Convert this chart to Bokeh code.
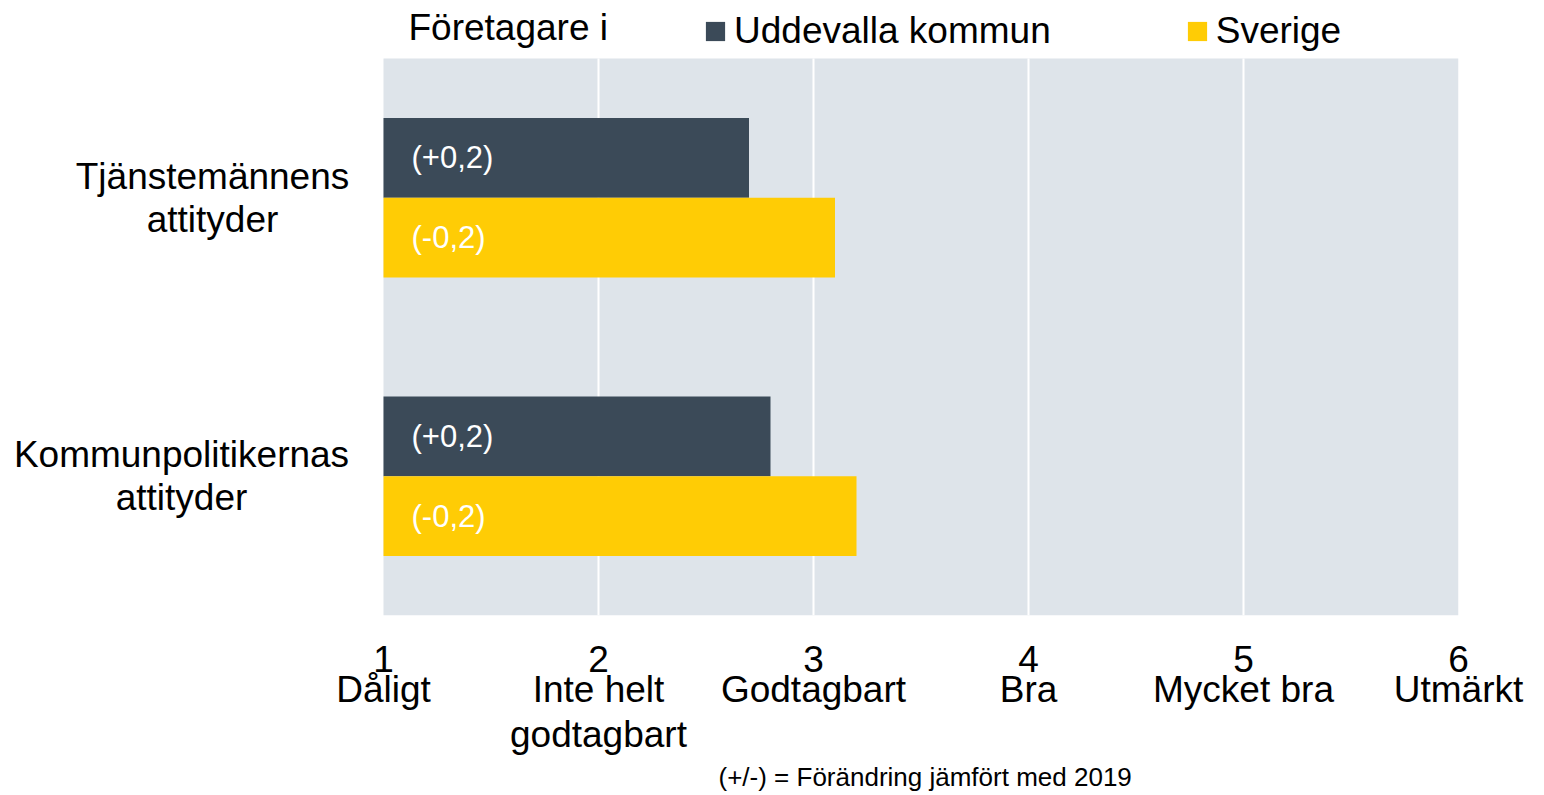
from bokeh.plotting import figure
from bokeh.models import (Range1d, FixedTicker, LinearAxis, Legend, LegendItem, Title,
                          ColumnDataSource, BoxAnnotation)
from bokeh.transform import dodge
from bokeh.core.properties import value
from bokeh.embed import file_html
from bokeh.resources import INLINE

# ---------------- data ----------------
categories = ["Kommunpolitikernas\nattityder", "Tjänstemännens\nattityder"]
series_names = ["Uddevalla kommun", "Sverige"]
uddevalla = [2.8, 2.7]
sverige = [3.2, 3.1]
uddevalla_change = ["(+0,2)", "(+0,2)"]
sverige_change = ["(-0,2)", "(-0,2)"]
scale_values = [1, 2, 3, 4, 5, 6]
scale_names = ["Dåligt", "Inte helt\ngodtagbart", "Godtagbart", "Bra", "Mycket bra", "Utmärkt"]
legend_heading = "Företagare i"
footnote = "(+/-) = Förändring jämfört med 2019"

# ---------------- style / layout ----------------
FONT = "Liberation Sans"
DARK = "#3B4A58"
YELLOW = "#FFCC05"
BG = "#DEE4EA"
BIG = "37px"
OFF = 0.143
BAR_H = 0.286
LABEL_X_PX = 28          # bar label inset from bar start (px)
W, H = 1536, 793
RIGHT = 78
BOTTOM = 178
PLOT_LEFT = 383          # px where the scale starts
PLOT_TOP = 58            # px where the category area starts
CAT_LABEL_CX = [181, 212]  # horizontal centres of the category label blocks (px)

n = len(categories)
pos = [i + 0.5 for i in range(n)]
lo, hi = scale_values[0], scale_values[-1]
frame_w = W - RIGHT
frame_h = H - BOTTOM
x_start = lo - PLOT_LEFT / (frame_w - PLOT_LEFT) * (hi - lo)
y_end = n * frame_h / (frame_h - PLOT_TOP)

src = ColumnDataSource(dict(pos=pos, cat=categories, udd=uddevalla, sve=sverige,
                            udd_txt=uddevalla_change, sve_txt=sverige_change,
                            lab_off=[c - PLOT_LEFT for c in CAT_LABEL_CX]))

p = figure(width=W, height=H, x_range=Range1d(x_start, hi), y_range=Range1d(0, y_end),
           y_axis_location=None, output_backend="svg", toolbar_location=None,
           min_border_left=0, min_border_right=RIGHT, min_border_top=0,
           min_border_bottom=BOTTOM)
p.background_fill_color = "white"
p.border_fill_color = "white"
p.outline_line_color = None
p.grid.visible = False

# plot-area background and grid lines
p.add_layout(BoxAnnotation(left=lo, right=hi, bottom=0, top=n, fill_color=BG,
                           fill_alpha=1, line_color=None, level="underlay"))
p.segment(x0=scale_values[1:-1], x1=scale_values[1:-1], y0=0, y1=n,
          line_color="white", line_width=2)

r1 = p.hbar(y=dodge("pos", OFF), left=lo, right="udd", height=BAR_H,
            fill_color=DARK, line_color=None, source=src)
r2 = p.hbar(y=dodge("pos", -OFF), left=lo, right="sve", height=BAR_H,
            fill_color=YELLOW, line_color=None, source=src)

p.text(x=lo, y=dodge("pos", OFF), x_offset=LABEL_X_PX, text="udd_txt", source=src,
       text_color="white", text_font=value(FONT), text_font_size="31px",
       text_baseline="middle", text_align="left")
p.text(x=lo, y=dodge("pos", -OFF), x_offset=LABEL_X_PX, text="sve_txt", source=src,
       text_color="white", text_font=value(FONT), text_font_size="31px",
       text_baseline="middle", text_align="left")

# category labels
p.text(x=lo, y="pos", x_offset="lab_off", text="cat", source=src, text_color="black",
       text_font=value(FONT), text_font_size=BIG, text_align="center",
       text_baseline="middle", text_line_height=1.05)

# legend heading
p.text(x=[lo], y=[n], x_offset=25, y_offset=-31, text=[legend_heading],
       text_color="black", text_font=value(FONT), text_font_size=BIG,
       text_baseline="middle", text_align="left")

# x axis: numbers
xa = p.xaxis[0]
xa.ticker = FixedTicker(ticks=scale_values)
xa.axis_line_color = None
xa.major_tick_line_color = None
xa.minor_tick_line_color = None
xa.major_tick_out = 0
xa.major_tick_in = 0
xa.major_label_standoff = 30
xa.major_label_text_font = FONT
xa.major_label_text_font_size = BIG
xa.major_label_text_color = "black"

# x axis: names
xa2 = LinearAxis(ticker=FixedTicker(ticks=scale_values),
                 major_label_overrides={v: s for v, s in zip(scale_values, scale_names)})
xa2.axis_line_color = None
xa2.major_tick_line_color = None
xa2.minor_tick_line_color = None
xa2.major_tick_out = 0
xa2.major_tick_in = 0
xa2.major_label_standoff = -6
xa2.major_label_text_font = FONT
xa2.major_label_text_font_size = BIG
xa2.major_label_text_color = "black"
xa2.major_label_text_line_height = 1.1
p.add_layout(xa2, "below")

p.add_layout(Title(text=footnote, align="left", text_font=FONT, text_font_size="26px",
                   text_font_style="normal", text_color="black", standoff=4, offset=718),
             "below")

legend = Legend(items=[LegendItem(label=series_names[0], renderers=[r1]),
                       LegendItem(label=series_names[1], renderers=[r2])],
                orientation="horizontal", location=(703, 563), padding=0, margin=0,
                spacing=134, label_standoff=7, glyph_width=24, glyph_height=24,
                label_text_font=FONT, label_text_font_size=BIG, label_text_color="black",
                border_line_color=None, background_fill_alpha=0)
p.add_layout(legend)

open("out.html", "w").write(file_html(p, INLINE))
